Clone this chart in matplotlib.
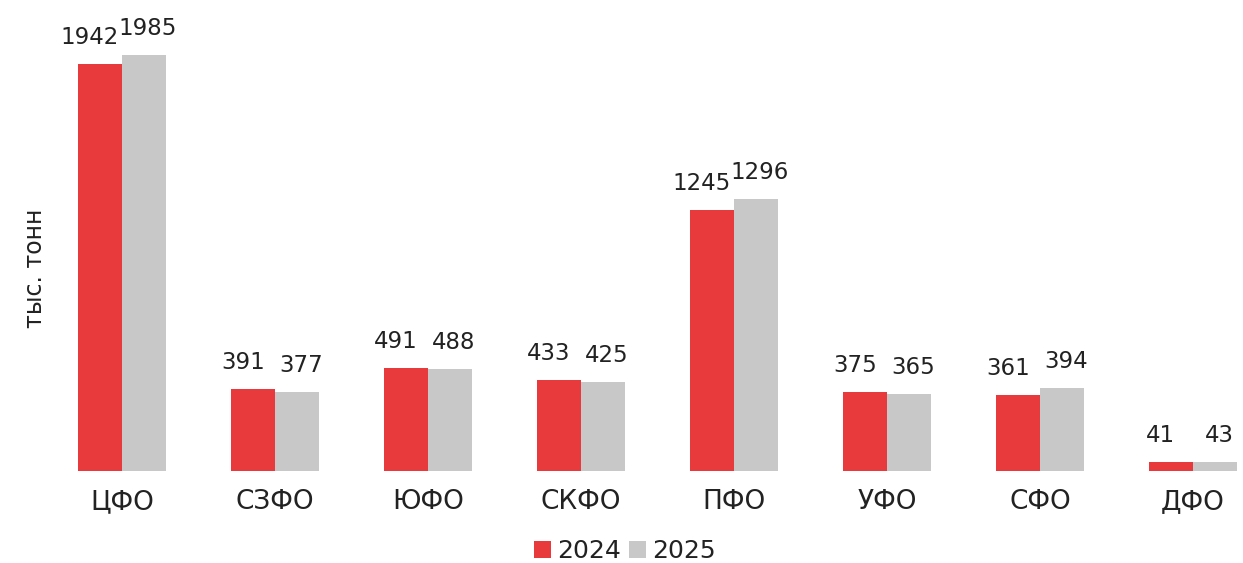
import matplotlib
matplotlib.use("Agg")
import matplotlib.pyplot as plt
import numpy as np
from matplotlib.patches import Patch

plt.rcParams['font.family'] = ['DejaVu Sans']

categories = ["ЦФО", "СЗФО", "ЮФО", "СКФО", "ПФО", "УФО", "СФО", "ДФО"]
values_2024 = [1942, 391, 491, 433, 1245, 375, 361, 41]
values_2025 = [1985, 377, 488, 425, 1296, 365, 394, 43]
series_labels = ["2024", "2025"]
y_label = "тыс. тонн"

red = "#E8393C"
gray = "#C8C8C8"
txt = "#222222"

W, H = 1243, 563
fig = plt.figure(figsize=(W / 100, H / 100), dpi=100)
ax = fig.add_axes([60 / W, (H - 471) / H, (W - 60) / W, (471 - 20) / H])

x = np.arange(len(categories))
bw = 0.288
ax.bar(x - bw / 2, values_2024, width=bw, color=red, linewidth=0)
ax.bar(x + bw / 2, values_2025, width=bw, color=gray, linewidth=0)

ax.set_xlim(-0.405, 7.327)
ax.set_ylim(0, 451 / 0.2096)

for xi, v in zip(x, values_2024):
    ax.annotate(str(v), (xi - bw / 2, v), xytext=(-10, 15), textcoords="offset pixels",
                ha="center", va="bottom", fontsize=16.5, color=txt)
for xi, v in zip(x, values_2025):
    ax.annotate(str(v), (xi + bw / 2, v), xytext=(4, 15), textcoords="offset pixels",
                ha="center", va="bottom", fontsize=16.5, color=txt)

ax.set_xticks(x)
ax.set_xticklabels(categories, fontsize=19, color=txt)
ax.tick_params(axis="x", length=0, pad=13)
ax.set_yticks([])
for s in ax.spines.values():
    s.set_visible(False)

fig.text(35 / W, (H - 268) / H, y_label, rotation=90, ha="center", va="center",
         fontsize=17, color=txt)

handles = [Patch(facecolor=red, edgecolor="none"), Patch(facecolor=gray, edgecolor="none")]
fig.legend(handles, series_labels, loc="center", bbox_to_anchor=(625 / W, (H - 551) / H),
           ncol=2, frameon=False, fontsize=18, handlelength=0.7, handleheight=0.7,
           handletextpad=0.25, columnspacing=0.3, labelcolor=txt)

fig.savefig("out.png", dpi=100)
